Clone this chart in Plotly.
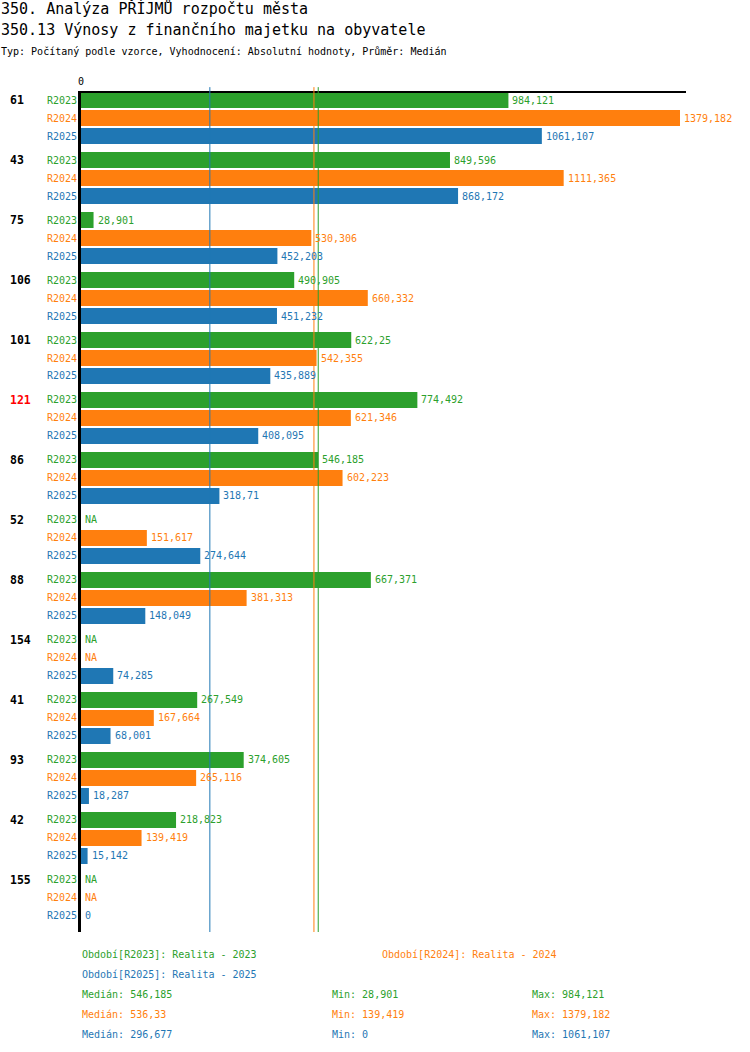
import plotly.graph_objects as go

GROUPS = ["61", "43", "75", "106", "101", "121", "86", "52", "88", "154", "41", "93", "42", "155"]
HIGHLIGHT = "121"
PERIODS = ["R2023", "R2024", "R2025"]
PERIOD_NAMES = ["Realita - 2023", "Realita - 2024", "Realita - 2025"]
COLORS = ["#2ca02c", "#ff7f0e", "#1f77b4"]

R2023 = [984.121, 849.596, 28.901, 490.905, 622.25, 774.492, 546.185,
         None, 667.371, None, 267.549, 374.605, 218.823, None]
R2024 = [1379.182, 1111.365, 530.306, 660.332, 542.355, 621.346, 602.223,
         151.617, 381.313, None, 167.664, 265.116, 139.419, None]
R2025 = [1061.107, 868.172, 452.203, 451.232, 435.889, 408.095, 318.71,
         274.644, 148.049, 74.285, 68.001, 18.287, 15.142, 0]
SERIES = [R2023, R2024, R2025]

MEDIANS = [546.185, 536.33, 296.677]
MINS = [28.901, 139.419, 0]
MAXS = [984.121, 1379.182, 1061.107]

FONT = "DejaVu Sans Mono"
STEP = 0.3      # distance between bars inside a group
BAR_W = 0.267


def fmt(v):
    if v is None:
        return "NA"
    return ("%.3f" % v).rstrip("0").rstrip(".").replace(".", ",")


def ypos(i, j):
    return i + (j - 1) * STEP


fig = go.Figure()
annotations = []

for j, (name, vals, col) in enumerate(zip(PERIODS, SERIES, COLORS)):
    ys = [ypos(i, j) for i in range(len(GROUPS))]
    fig.add_trace(go.Bar(
        x=vals, y=ys, orientation="h", width=BAR_W,
        marker=dict(color=col, line=dict(width=0)),
        name=name, hoverinfo="x",
    ))
    for v, y in zip(vals, ys):
        # value label right of the bar end
        annotations.append(dict(
            x=0 if v is None else v, y=y, xref="x", yref="y", text=fmt(v),
            showarrow=False, xanchor="left", yanchor="middle", xshift=2,
            font=dict(family=FONT, size=10, color=col),
        ))
        # period label left of the axis
        annotations.append(dict(
            x=0, y=y, xref="x", yref="y", text=name, showarrow=False,
            xanchor="right", yanchor="middle", xshift=-2,
            font=dict(family=FONT, size=10, color=col),
        ))

for i, g in enumerate(GROUPS):
    annotations.append(dict(
        x=0, y=ypos(i, 0), xref="paper", yref="y", text="<b>%s</b>" % g,
        showarrow=False, xanchor="left", yanchor="middle", xshift=-73,
        font=dict(family=FONT, size=11.5, color="red" if g == HIGHLIGHT else "black"),
    ))

# header
header = [
    ("350. Analýza PŘÍJMŮ rozpočtu města", 15, 84.5),
    ("350.13 Výnosy z finančního majetku na obyvatele", 15, 63.5),
    ("Typ: Počítaný podle vzorce, Vyhodnocení: Absolutní hodnoty, Průměr: Medián", 10, 42),
]
for text, size, shift in header:
    annotations.append(dict(
        x=0, y=1, xref="paper", yref="paper", text=text, showarrow=False,
        xanchor="left", yanchor="middle", xshift=-82, yshift=shift,
        font=dict(family=FONT, size=size, color="black"),
    ))

annotations.append(dict(
    x=0, y=1, xref="x", yref="paper", text="0", showarrow=False,
    xanchor="center", yanchor="middle", yshift=12,
    font=dict(family=FONT, size=10, color="black"),
))

# legend and statistics below the chart
legend_pos = [(-1, -22), (299, -22), (-1, -42)]
for j in range(3):
    dx, dy = legend_pos[j]
    annotations.append(dict(
        x=0, y=0, xref="paper", yref="paper",
        text="Období[%s]: %s" % (PERIODS[j], PERIOD_NAMES[j]), showarrow=False,
        xanchor="left", yanchor="middle", xshift=dx, yshift=dy,
        font=dict(family=FONT, size=10, color=COLORS[j]),
    ))
    for label, val, dx in (("Medián", MEDIANS[j], -1), ("Min", MINS[j], 249), ("Max", MAXS[j], 449)):
        annotations.append(dict(
            x=0, y=0, xref="paper", yref="paper",
            text="%s: %s" % (label, fmt(val)), showarrow=False,
            xanchor="left", yanchor="middle", xshift=dx, yshift=-62 - 20 * j,
            font=dict(family=FONT, size=10, color=COLORS[j]),
        ))

shapes = [
    dict(type="line", xref="x", yref="paper", x0=m, x1=m, y0=0, y1=1.007,
         line=dict(color=c, width=1), layer="above")
    for m, c in zip(MEDIANS, COLORS)
]

fig.update_layout(
    width=750, height=1052,
    margin=dict(l=81, r=64, t=93, b=120),
    plot_bgcolor="white", paper_bgcolor="white",
    showlegend=False, barmode="overlay",
    font=dict(family=FONT, size=10),
    xaxis=dict(range=[0, 1393], side="top", showgrid=False, zeroline=False,
               showticklabels=False, ticks="", showline=True,
               linecolor="black", linewidth=2, fixedrange=True),
    yaxis=dict(range=[13.567, -0.4167], showgrid=False, zeroline=False,
               showticklabels=False, ticks="", showline=True,
               linecolor="black", linewidth=3, fixedrange=True),
    annotations=annotations, shapes=shapes,
)

fig.write_html("out.html", config={"displayModeBar": False},
               post_script="document.body.style.margin='0';")
